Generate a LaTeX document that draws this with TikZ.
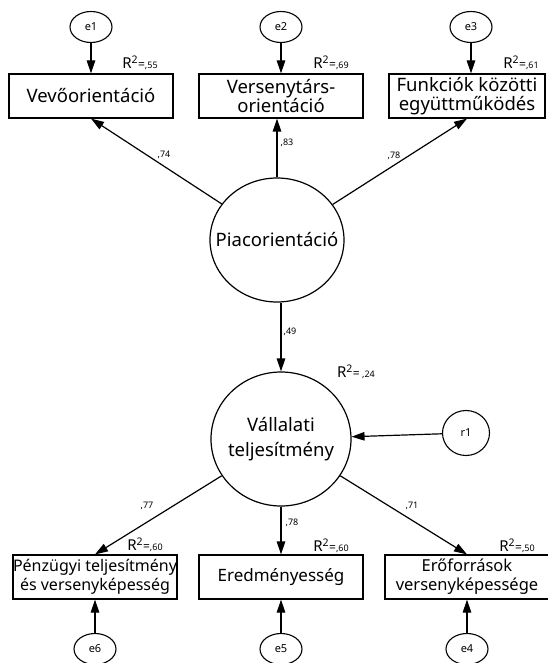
\documentclass[tikz,border=0pt]{standalone}
\usepackage{fontspec}
\setmainfont{Noto Sans}
\usetikzlibrary{arrows.meta,calc,shapes.geometric}

\newcommand{\rsqlabel}[1]{{\fontsize{15}{15}\selectfont R\textsuperscript{2}}{\fontsize{12}{12}\selectfont=}{\fontsize{9}{9}\selectfont#1}}

\begin{document}
\begin{tikzpicture}[
    x=1pt, y=-1pt,
    box/.style={rectangle, draw, line width=1.2pt, minimum height=44pt, minimum width=164pt, inner sep=0pt, align=center, font=\fontsize{18.5}{19}\selectfont},
    latent/.style={ellipse, draw, line width=1.2pt, inner sep=0pt},
    latenttext/.style={align=center, inner sep=0pt, font=\fontsize{18.5}{25}\selectfont},
    err/.style={ellipse, draw, line width=1.1pt, minimum width=42pt, minimum height=31pt, inner sep=0pt, font=\fontsize{11}{11}\selectfont},
    line/.style={draw, line width=1.2pt, -{Triangle[length=13pt,width=8.5pt]}},
    coef/.style={font=\fontsize{9}{9}\selectfont, inner sep=0pt}
]
    \useasboundingbox (0,0) rectangle (548,663);

    % Error terms, top
    \node[err] (e1) at (91,27) {e1};
    \node[err] (e2) at (281,27) {e2};
    \node[err] (e3) at (471,27) {e3};

    % Indicators, top
    \node[box] (vevo) at (91,96) {Vevőorientáció};
    \node[box] (verseny) at (281,96) {Versenytárs-\\orientáció};
    \node[box, minimum width=156pt] (funkc) at (467,96) {Funkciók közötti\\együttműködés};

    % Latent variables
    \node[latent, minimum width=134pt, minimum height=124pt,
          label={[latenttext]center:Piacorientáció}] (piac) at (277,240) {};
    \node[latent, minimum width=140pt, minimum height=134pt,
          label={[latenttext]center:Vállalati\\teljesítmény}] (vall) at (281,439) {};
    \node[err, minimum width=47pt, minimum height=45pt] (r1) at (466,433) {r1};

    % Indicators, bottom
    \node[box, font=\fontsize{16}{19}\selectfont] (penz) at (95,577) {Pénzügyi teljesítmény\\és versenyképesség};
    \node[box, font=\fontsize{17}{19}\selectfont] (ered) at (281,577) {Eredményesség};
    \node[box, font=\fontsize{16.5}{19}\selectfont] (erof) at (467,577) {Erőforrások\\versenyképessége};

    % Error terms, bottom
    \node[err] (e6) at (95,649) {e6};
    \node[err] (e5) at (281,649) {e5};
    \node[err] (e4) at (467,649) {e4};

    % Error arrows
    \foreach \e/\b in {e1/vevo, e2/verseny, e4/erof, e5/ered, e6/penz} {
        \draw[line] (\e) -- (\b);
    }
    \draw[line] (e3) -- (e3 |- funkc.north);
    \draw[line] (r1) -- (vall);

    % Loadings
    \draw[line] (piac) -- (vevo.south);
    \draw[line] (piac.north) -- (piac.north |- verseny.south);
    \draw[line] (piac) -- (funkc.south);
    \draw[line] (piac.south -| vall.north) -- (vall.north);
    \draw[line] (vall) -- (penz.north);
    \draw[line] (vall.south) -- (ered.north);
    \draw[line] (vall) -- (erof.north);

    % Coefficients
    \foreach \n/\p/\t in {c1/{164,155}/{,74}, c2/{287,143}/{,83}, c3/{394,156}/{,78}, c4/{290,332}/{,49},
                          c5/{147,506}/{,77}, c6/{292,523}/{,78}, c7/{412,506}/{,71}} {
        \node[coef] (\n) at (\p) {\t};
    }

    % R squared
    \foreach \n/\p/\t in {q1/{140,63}/{,55}, q2/{331,63}/{,69}, q3/{521,63}/{,61},
                          q4/{145,545}/{,60}, q5/{331,546}/{,60}, q6/{517,546}/{,50}} {
        \node[inner sep=0pt] (\n) at (\p) {\rsqlabel{\t}};
    }
    \node[inner sep=0pt] (q7) at (356,372) {\rsqlabel{\ ,24}};
\end{tikzpicture}
\end{document}
